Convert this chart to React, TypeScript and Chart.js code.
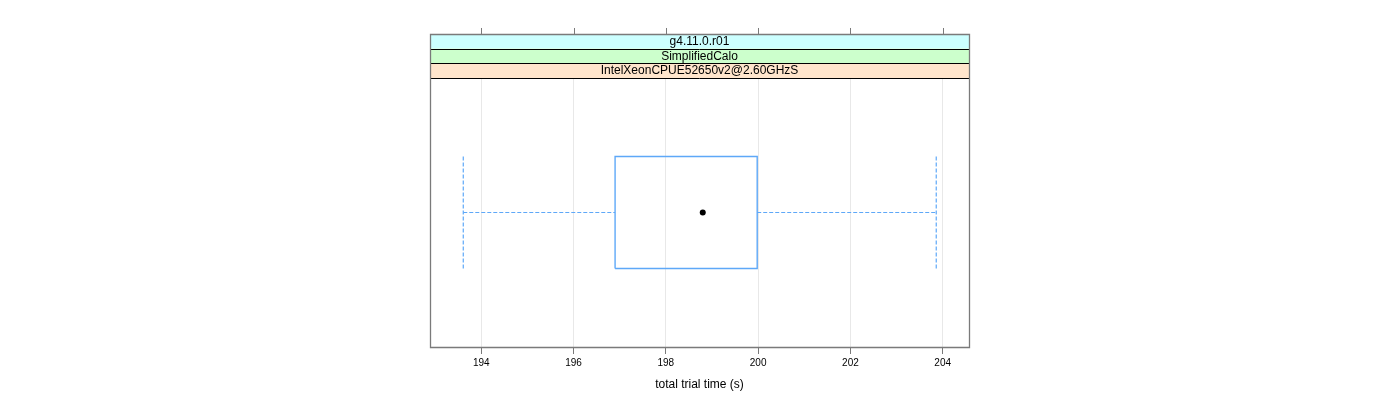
import React, { useEffect, useRef } from "react";
import { Chart, registerables } from "chart.js";

Chart.register(...registerables);

// ---- data ----
const stripLabels = ["g4.11.0.r01", "SimplifiedCalo", "IntelXeonCPUE52650v2@2.60GHzS"];
const stripColors = ["#ccffff", "#ccffcc", "#ffe5cc"];
const categories = ["IntelXeonCPUE52650v2@2.60GHzS"];
const whiskerLow = [193.61];
const quartile1 = [196.9];
const medians = [198.8];
const quartile3 = [199.98];
const whiskerHigh = [203.86];
const tickValues = [194, 196, 198, 200, 202, 204];
const xRange = [192.889, 204.57];
const xTitle = "total trial time (s)";

const FONT = "'Liberation Sans', Arial, Helvetica, sans-serif";
const BOX_COL = "#5ea8f8";
const AXIS_COL = "#7a7a7a";

const stripPlugin = {
  id: "strips",
  afterDraw(chart: any) {
    const { ctx, chartArea } = chart;
    const x = chart.scales.x;
    const left = chartArea.left;
    const right = chartArea.right;
    const stripH = 14.67;
    const top = chartArea.top - stripH * stripLabels.length;
    ctx.save();
    ctx.setLineDash([]);
    ctx.globalAlpha = 1;
    // top tick marks
    ctx.strokeStyle = AXIS_COL;
    ctx.lineWidth = 1;
    tickValues.forEach((v) => {
      const px = Math.round(x.getPixelForValue(v)) + 0.5;
      ctx.beginPath();
      ctx.moveTo(px, top);
      ctx.lineTo(px, top - 6);
      ctx.stroke();
    });
    stripLabels.forEach((lab, i) => {
      const y0 = top + i * stripH;
      ctx.fillStyle = stripColors[i];
      ctx.fillRect(left, y0, right - left, stripH);
      ctx.fillStyle = "#000";
      ctx.font = `12px ${FONT}`;
      ctx.textAlign = "center";
      ctx.textBaseline = "middle";
      ctx.fillText(lab, (left + right) / 2, y0 + stripH / 2 + 0.5);
    });
    ctx.strokeStyle = "#000000";
    ctx.lineWidth = 1;
    for (let i = 1; i <= stripLabels.length; i++) {
      const y = Math.round(top + i * stripH) + 0.5;
      ctx.beginPath();
      ctx.moveTo(left, y);
      ctx.lineTo(right, y);
      ctx.stroke();
    }
    // panel border
    const l = Math.round(left) + 0.5;
    const r = Math.round(right) + 0.5;
    const t = Math.round(top) + 0.5;
    const b = Math.round(chartArea.bottom) + 0.5;
    ctx.strokeStyle = AXIS_COL;
    ctx.lineWidth = 1.3;
    ctx.beginPath();
    ctx.moveTo(l, t);
    ctx.lineTo(r, t);
    ctx.lineTo(r, b);
    ctx.lineTo(l, b);
    ctx.closePath();
    ctx.stroke();
    ctx.restore();
  },
};

export default function App() {
  const ref = useRef<HTMLCanvasElement>(null);
  useEffect(() => {
    if (!ref.current) return;
    const datasets: any[] = [];
    categories.forEach((c, i) => {
      const yc = i + 1;
      const h = 0.25;
      datasets.push({
        label: c + " box",
        data: [
          { x: quartile1[i], y: yc - h },
          { x: quartile3[i], y: yc - h },
          { x: quartile3[i], y: yc + h },
          { x: quartile1[i], y: yc + h },
          { x: quartile1[i], y: yc - h },
        ],
        showLine: true,
        borderColor: BOX_COL,
        borderWidth: 1.4,
        pointRadius: 0,
      });
      const dashed = { showLine: true, borderColor: BOX_COL, borderWidth: 1.2, pointRadius: 0, borderDash: [4, 2] };
      datasets.push({ ...dashed, label: "lw", data: [{ x: whiskerLow[i], y: yc }, { x: quartile1[i], y: yc }] });
      datasets.push({ ...dashed, label: "uw", data: [{ x: quartile3[i], y: yc }, { x: whiskerHigh[i], y: yc }] });
      datasets.push({ ...dashed, label: "lc", data: [{ x: whiskerLow[i], y: yc - h }, { x: whiskerLow[i], y: yc + h }] });
      datasets.push({ ...dashed, label: "uc", data: [{ x: whiskerHigh[i], y: yc - h }, { x: whiskerHigh[i], y: yc + h }] });
      datasets.push({
        label: "median",
        data: [{ x: medians[i], y: yc }],
        pointRadius: 3,
        pointBackgroundColor: "#000",
        pointBorderColor: "#000",
        pointBorderWidth: 0,
      });
    });
    const chart = new Chart(ref.current, {
      type: "scatter",
      data: { datasets },
      options: {
        animation: false,
        responsive: false,
        layout: { padding: { left: 430, right: 431, top: 78, bottom: 0 } },
        plugins: { legend: { display: false }, tooltip: { enabled: false } },
        scales: {
          x: {
            type: "linear",
            min: xRange[0],
            max: xRange[1],
            afterBuildTicks: (s: any) => {
              s.ticks = tickValues.map((v) => ({ value: v }));
            },
            afterFit: (s: any) => {
              s.height = 53;
            },
            grid: { color: "#e8e8e8", tickColor: AXIS_COL, tickLength: 7, drawOnChartArea: true },
            border: { display: false },
            ticks: { color: "#000", font: { family: FONT, size: 10 }, padding: 3, maxRotation: 0, autoSkip: false },
            title: { display: true, text: xTitle, color: "#000", font: { family: FONT, size: 12 }, padding: { top: 4, bottom: 8 } },
          },
          y: { type: "linear", min: 0.4, max: 1.6, display: false },
        },
      },
      plugins: [stripPlugin],
    });
    return () => chart.destroy();
  }, []);
  return (
    <div style={{ position: "fixed", left: 0, top: 0, width: 1400, height: 400, background: "#fff" }}>
      <canvas ref={ref} width={1400} height={400} style={{ width: 1400, height: 400, display: "block" }} />
    </div>
  );
}
